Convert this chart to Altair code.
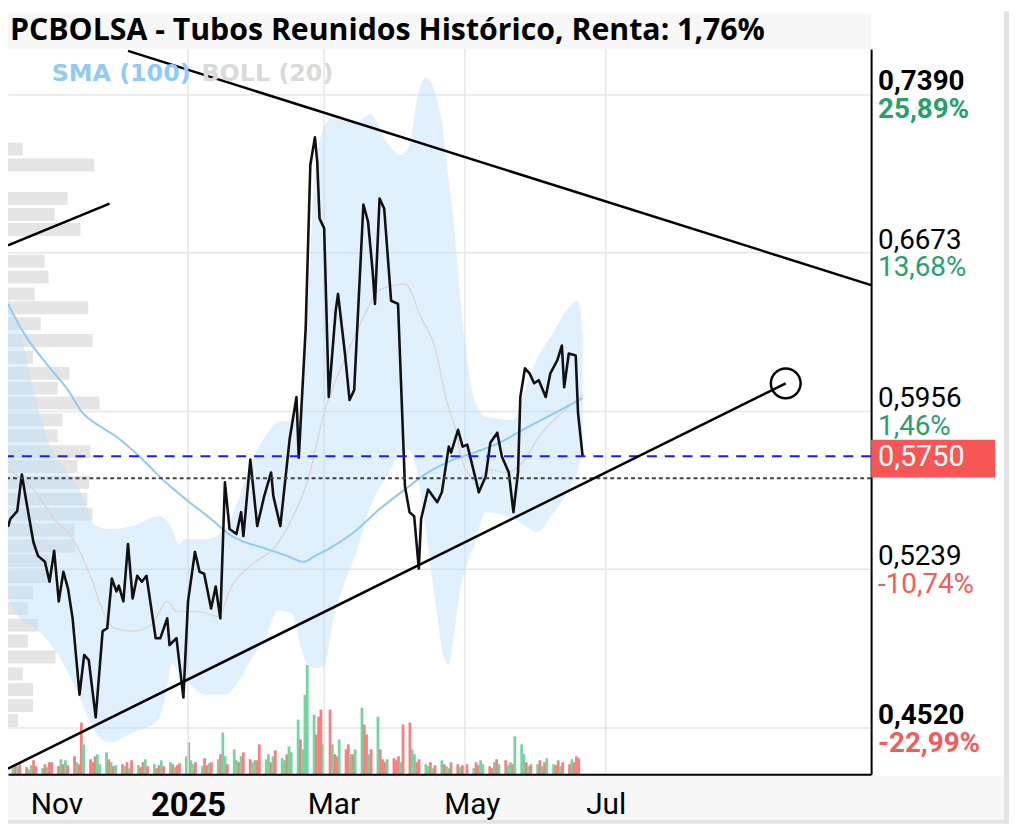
import altair as alt
import pandas as pd

TITLE = "PCBOLSA - Tubos Reunidos Histórico, Renta: 1,76%"

# ---------------- price (close) ----------------
price_dates = [
    "2024-10-15", "2024-10-16", "2024-10-19", "2024-10-21", "2024-10-23", "2024-10-26", "2024-10-28",
    "2024-10-31", "2024-11-02", "2024-11-04", "2024-11-06", "2024-11-08", "2024-11-10", "2024-11-12",
    "2024-11-15", "2024-11-17", "2024-11-19", "2024-11-22", "2024-11-25", "2024-11-27", "2024-11-29",
    "2024-12-01", "2024-12-02", "2024-12-04", "2024-12-06", "2024-12-08", "2024-12-10", "2024-12-12",
    "2024-12-14", "2024-12-18", "2024-12-20", "2024-12-23", "2024-12-24", "2024-12-27", "2024-12-30",
    "2025-01-01", "2025-01-04", "2025-01-06", "2025-01-08", "2025-01-11", "2025-01-13", "2025-01-15",
    "2025-01-17", "2025-01-19", "2025-01-22", "2025-01-24", "2025-01-25", "2025-01-28", "2025-01-31",
    "2025-02-03", "2025-02-06", "2025-02-07", "2025-02-10", "2025-02-14", "2025-02-17", "2025-02-18",
    "2025-02-21", "2025-02-23", "2025-02-25", "2025-02-26", "2025-02-27", "2025-03-01", "2025-03-03",
    "2025-03-06", "2025-03-07", "2025-03-10", "2025-03-12", "2025-03-14", "2025-03-18", "2025-03-20",
    "2025-03-22", "2025-03-23", "2025-03-25", "2025-03-27", "2025-03-30", "2025-04-02", "2025-04-05",
    "2025-04-07", "2025-04-09", "2025-04-11", "2025-04-12", "2025-04-15", "2025-04-19", "2025-04-21",
    "2025-04-24", "2025-04-25", "2025-04-28", "2025-04-30", "2025-05-02", "2025-05-06", "2025-05-07",
    "2025-05-10", "2025-05-12", "2025-05-15", "2025-05-17", "2025-05-20", "2025-05-22", "2025-05-24",
    "2025-05-25", "2025-05-27", "2025-05-29", "2025-05-31", "2025-06-02", "2025-06-05", "2025-06-07",
    "2025-06-10", "2025-06-12", "2025-06-13", "2025-06-15", "2025-06-18", "2025-06-19", "2025-06-21",
]
price_values = [
    0.5430, 0.5466, 0.5502, 0.5668, 0.5542, 0.5362, 0.5299,
    0.5272, 0.5182, 0.5322, 0.5093, 0.5227, 0.5151, 0.5016,
    0.4670, 0.4850, 0.4827, 0.4567, 0.4958, 0.4971, 0.5196,
    0.5138, 0.5164, 0.5093, 0.5353, 0.5106, 0.5209, 0.5182,
    0.5209, 0.4926, 0.4926, 0.5016, 0.4895, 0.4926, 0.4657,
    0.5093, 0.5317, 0.5227, 0.5218, 0.5061, 0.5160, 0.5016,
    0.5632, 0.5421, 0.5398, 0.5497, 0.5389, 0.5735, 0.5434,
    0.5569, 0.5677, 0.5569, 0.5434, 0.5825, 0.6019, 0.5744,
    0.6333, 0.7070, 0.7196, 0.7084, 0.6828, 0.6783, 0.6019,
    0.6410, 0.6486, 0.6216, 0.6005, 0.6050, 0.6891, 0.6814,
    0.6589, 0.6441, 0.6918, 0.6873, 0.6455, 0.6441, 0.5614,
    0.5497, 0.5479, 0.5241, 0.5466, 0.5600, 0.5542, 0.5587,
    0.5794, 0.5767, 0.5870, 0.5794, 0.5803, 0.5632, 0.5587,
    0.5659, 0.5812, 0.5857, 0.5749, 0.5677, 0.5497, 0.5677,
    0.6019, 0.6149, 0.6126, 0.6081, 0.6095, 0.6019, 0.6126,
    0.6185, 0.6252, 0.6063, 0.6216, 0.6207, 0.5947, 0.5750,
]

# ---------------- SMA (100) ----------------
sma_dates = [
    "2024-10-15", "2024-10-22", "2024-11-02", "2024-11-10", "2024-11-16", "2024-11-25", "2024-12-01",
    "2024-12-11", "2024-12-21", "2024-12-31", "2025-01-11", "2025-01-20", "2025-02-04", "2025-02-13",
    "2025-02-20", "2025-02-25", "2025-03-03", "2025-03-14", "2025-03-25", "2025-04-05", "2025-04-15",
    "2025-04-26", "2025-05-05", "2025-05-16", "2025-05-26", "2025-06-09", "2025-06-21",
]
sma_values = [
    0.6441, 0.6306, 0.6153, 0.6050, 0.5951, 0.5879, 0.5839,
    0.5749, 0.5645, 0.5556, 0.5466, 0.5389, 0.5331, 0.5299,
    0.5272, 0.5299, 0.5331, 0.5407, 0.5511, 0.5600, 0.5677,
    0.5735, 0.5767, 0.5812, 0.5870, 0.5947, 0.6014,
]

# ---------------- Bollinger (20) ----------------
boll_dates = [
    "2024-10-15", "2024-10-20", "2024-10-27", "2024-11-02", "2024-11-09", "2024-11-15", "2024-11-22",
    "2024-11-28", "2024-12-08", "2024-12-19", "2024-12-23", "2024-12-25", "2024-12-28", "2024-12-31",
    "2025-01-09", "2025-01-17", "2025-01-23", "2025-01-28", "2025-02-04", "2025-02-09", "2025-02-15",
    "2025-02-19", "2025-02-22", "2025-02-25", "2025-03-01", "2025-03-05", "2025-03-09", "2025-03-15",
    "2025-03-21", "2025-03-28", "2025-04-03", "2025-04-07", "2025-04-10", "2025-04-14", "2025-04-18",
    "2025-04-22", "2025-04-24", "2025-04-26", "2025-04-29", "2025-05-02", "2025-05-05", "2025-05-10",
    "2025-05-22", "2025-05-28", "2025-06-01", "2025-06-08", "2025-06-15", "2025-06-19", "2025-06-21",
]
boll_upper = [
    0.6455, 0.6320, 0.6005, 0.5803, 0.5690, 0.5600, 0.5434,
    0.5421, 0.5434, 0.5479, 0.5457, 0.5421, 0.5353, 0.5376,
    0.5376, 0.5421, 0.5556, 0.5713, 0.5848, 0.5906, 0.5915,
    0.6005, 0.6455, 0.7039, 0.7241, 0.7286, 0.7273, 0.7264,
    0.7300, 0.7174, 0.7115, 0.7160, 0.7354, 0.7466, 0.7398,
    0.7187, 0.6994, 0.6828, 0.6455, 0.6185, 0.6005, 0.5929,
    0.5915, 0.6081, 0.6185, 0.6306, 0.6423, 0.6455, 0.6306,
]
boll_lower = [
    0.5106, 0.5016, 0.4971, 0.4904, 0.4791, 0.4658, 0.4499,
    0.4454, 0.4499, 0.4558, 0.4701, 0.4814, 0.4769, 0.4737,
    0.4670, 0.4670, 0.4733, 0.4823, 0.4940, 0.5052, 0.5039,
    0.4881, 0.4805, 0.4791, 0.4800, 0.5016, 0.5151, 0.5317,
    0.5524, 0.5659, 0.5758, 0.5780, 0.5690, 0.5421, 0.5106,
    0.4836, 0.4805, 0.4926, 0.5151, 0.5263, 0.5344, 0.5497,
    0.5466, 0.5430, 0.5407, 0.5488, 0.5600, 0.5690, 0.5767,
]
boll_mid_dates = [
    "2024-10-15", "2024-10-26", "2024-11-04", "2024-11-13", "2024-11-19", "2024-11-26", "2024-11-30",
    "2024-12-08", "2024-12-16", "2024-12-23", "2024-12-27", "2025-01-05", "2025-01-14", "2025-01-20",
    "2025-01-28", "2025-02-08", "2025-02-15", "2025-02-22", "2025-03-01", "2025-03-11", "2025-03-20",
    "2025-03-24", "2025-04-05", "2025-04-12", "2025-04-18", "2025-04-23", "2025-04-27", "2025-04-30",
    "2025-05-06", "2025-05-12", "2025-05-18", "2025-05-26", "2025-06-02", "2025-06-12", "2025-06-21",
]
boll_mid = [
    0.5690, 0.5600, 0.5466, 0.5362, 0.5227, 0.5030, 0.4971,
    0.4958, 0.4985, 0.5093, 0.5048, 0.5048, 0.5025, 0.5164,
    0.5254, 0.5344, 0.5466, 0.5645, 0.5947, 0.6216, 0.6423,
    0.6499, 0.6531, 0.6378, 0.6243, 0.6005, 0.5870, 0.5722,
    0.5645, 0.5690, 0.5677, 0.5722, 0.5839, 0.5947, 0.6028,
]

# ---------------- daily volume (k shares, + up day / - down day) ----------------
vol_start, vol_end = "2024-10-15", "2025-06-20"
vol_signed = (
    [60, -100, 80, -120, -70, 50, 90, -140, -80, 60, -100, 70, -120]
    + [-120, -80, 150, -100, 140, -90, -180, 120, -100, -520, 300, -150, -120, -180, 200, 100, 220, -150, 120, -80, 90]
    + [-100, 80, -120, 60, -140, 90, -70, -120, 150, -80, 100, -60, -90, 140, -80, 120, -100, 70, -90, -110, 180, -320]
    + [140, 100, -120, 80, -160, -90, 110, -120, 150, -200, 420, 180, -100, 250, 140, -120, 180, -220, -150, 120, 140, -140, -300]
    + [150, 200, -120, 180, -240, 160, 140, -200, 280, 220, 550, -350, 250, 800, 1100, 600, -400, -580, -650, 300]
    + [-650, 300, -200, -180, 350, -250, -300, 200, -200, 250, 670, -500, -400, 200, -250, 580, -250, -150, -120, 150, -160]
    + [-140, -180, 120, -500, -520, 250, 200, -120, -150, 100, 80, -120, 60, -90, 140, -100, 80, 60, -120, -100, 70, -90]
    + [80, -100, 60, -120, -90, 140, 100, -80, -60, 120, -150, 100, -140, 90, 120, -100, 380, 300, 200, -120, 80, -100]
    + [100, -140, 80, -120, 160, 100, -90, -140, 80, -120, -100, 150, -120, -180, -160]
)

# ---------------- volume profile (price level, k shares) ----------------
profile_prices = [
    0.7142, 0.7070, 0.6918, 0.6846, 0.6778, 0.6634, 0.6562, 0.6486, 0.6423, 0.6351,
    0.6275, 0.6198, 0.6126, 0.6059, 0.5992, 0.5915, 0.5843, 0.5771, 0.5704, 0.5632,
    0.5556, 0.5488, 0.5416, 0.5344, 0.5277, 0.5205, 0.5133, 0.5061, 0.4985, 0.4913,
    0.4841, 0.4764, 0.4693, 0.4621, 0.4553,
]
profile_volumes = [
    170, 1000, 690, 540, 840, 425, 470, 310, 930, 380,
    980, 290, 710, 575, 1060, 630, 575, 955, 805, 940,
    920, 980, 770, 780, 480, 480, 290, 230, 345, 230,
    550, 170, 290, 290, 115,
]

# ---------------- trend lines / levels ----------------
trend_seg = ["upper", "upper", "short", "short", "lower", "lower"]
trend_dates = ["2024-12-06", "2025-10-24", "2024-10-15", "2024-11-28", "2024-10-15", "2025-09-17"]
trend_values = [0.7587, 0.6526, 0.6706, 0.6895, 0.4335, 0.6081]
last_price = 0.5750
prev_close = 0.5651

axis_prices = [0.7390, 0.6673, 0.5956, 0.5239, 0.4520]
axis_pcts = ["25,89%", "13,68%", "1,46%", "-10,74%", "-22,99%"]
axis_bold = [True, False, False, False, True]
axis_pct_up = [True, True, True, False, False]

grid_dates = ["2025-01-01", "2025-03-01", "2025-05-01", "2025-07-01"]
label_dates = ["2024-11-05", "2025-01-01", "2025-03-05", "2025-05-04", "2025-07-01"]

# ---------------- layout ----------------
W, H = 870, 731
GREEN, RED = "#27a06e", "#f45b5b"
FONT = "Roboto"
TFONT = "Open Sans"
LFONT = "DejaVu Sans"
FRAME = "#e3e3e3"


def ms(d):
    return int(pd.Timestamp(d, tz="UTC").value // 10**6)


xscale = alt.Scale(type="utc", domain=[ms("2024-10-15"), ms("2025-10-24")])
yscale = alt.Scale(domain=[0.4310, 0.7596], nice=False, zero=False)

xaxis = alt.Axis(
    values=[ms(d) for d in label_dates],
    grid=False, ticks=False, domain=True, domainColor="#000000", domainWidth=2,
    labelExpr="utcmonth(datum.value) == 0 ? utcFormat(datum.value, '%Y') : utcFormat(datum.value, '%b')",
    labelFont=FONT, labelColor="#000000", labelPadding=16,
    labelFontSize={"condition": {"test": "utcmonth(datum.value) == 0", "value": 33}, "value": 30},
    labelFontWeight={"condition": {"test": "utcmonth(datum.value) == 0", "value": "bold"}, "value": "normal"},
    labelOverlap=False, title=None, zindex=1,
)
yaxis = alt.Axis(
    orient="right", values=axis_prices, labels=False, ticks=False, domain=True,
    domainColor="#000000", domainWidth=2, grid=True, gridColor="#e6e6e6", gridWidth=1.5, title=None,
)


def X(field):
    return alt.X(field, type="temporal", scale=xscale, axis=xaxis)


def Y(field):
    return alt.Y(field, type="quantitative", scale=yscale, axis=yaxis)


one = pd.DataFrame({"a": [0]})

# decorative strips: title strip, x-axis strip and the light outer frame
title_band = alt.Chart(one).mark_rect(color="#f7f7f7").encode(
    x=alt.value(-3), x2=alt.value(W), y=alt.value(-36), y2=alt.value(0))
bottom_band = alt.Chart(one).mark_rect(color="#f7f7f7").encode(
    x=alt.value(-3), x2=alt.value(W + 134), y=alt.value(H + 2), y2=alt.value(H + 46))
frame_right = alt.Chart(one).mark_rect(color=FRAME).encode(
    x=alt.value(W + 134), x2=alt.value(W + 139), y=alt.value(-38), y2=alt.value(H + 50))
frame_bottom = alt.Chart(one).mark_rect(color=FRAME).encode(
    x=alt.value(-3), x2=alt.value(W + 139), y=alt.value(H + 46), y2=alt.value(H + 50))
title_text = alt.Chart(one).mark_text(
    align="left", baseline="alphabetic", fontSize=30.5, font=TFONT, fontWeight="bold", color="#000000"
).encode(x=alt.value(2), y=alt.value(-9), text=alt.value(TITLE))

vgrid = alt.Chart(pd.DataFrame({"date": grid_dates})).mark_rule(
    color="#e6e6e6", strokeWidth=1.5).encode(x=X("date"))

boll_df = pd.DataFrame({"date": boll_dates, "up": boll_upper, "lo": boll_lower})
band = alt.Chart(boll_df).mark_area(color="#bbdefb", opacity=0.45, interpolate="monotone").encode(
    x=X("date"), y=Y("lo"), y2="up")
mid = alt.Chart(pd.DataFrame({"date": boll_mid_dates, "p": boll_mid})).mark_line(
    color="#ddd2cd", strokeWidth=1.2, interpolate="monotone").encode(x=X("date"), y=Y("p"))
sma = alt.Chart(pd.DataFrame({"date": sma_dates, "p": sma_values})).mark_line(
    color="#90caf9", strokeWidth=2, interpolate="monotone").encode(x=X("date"), y=Y("p"))
price = alt.Chart(pd.DataFrame({"date": price_dates, "p": price_values})).mark_line(
    color="#111111", strokeWidth=2.6, strokeJoin="round").encode(x=X("date"), y=Y("p"))

prev_rule = alt.Chart(pd.DataFrame({"p": [prev_close]})).mark_rule(
    color="#444444", strokeWidth=2, strokeDash=[4, 3]).encode(y=Y("p"))
last_rule = alt.Chart(pd.DataFrame({"p": [last_price]})).mark_rule(
    color="#1a1aff", strokeWidth=2, strokeDash=[10, 8]).encode(y=Y("p"))

trend_df = pd.DataFrame({"seg": trend_seg, "date": trend_dates, "p": trend_values})
trends = alt.Chart(trend_df).mark_line(color="#000000", strokeWidth=2.5).encode(
    x=X("date"), y=Y("p"), detail="seg:N")
circle_df = trend_df[trend_df.seg == "lower"].tail(1)
circle = alt.Chart(circle_df).mark_point(
    shape="circle", size=900, filled=False, color="#000000", strokeWidth=2.5, opacity=1).encode(
    x=X("date"), y=Y("p"))

lab_df = pd.DataFrame({
    "p": axis_prices,
    "lab": [f"{v:.4f}".replace(".", ",") for v in axis_prices],
    "pct": axis_pcts,
    "bold": axis_bold,
    "col": [GREEN if u else RED for u in axis_pct_up],
})
price_lab_b = alt.Chart(lab_df[lab_df.bold]).mark_text(
    align="left", baseline="alphabetic", dy=-4, fontSize=28, font=FONT, fontWeight="bold", color="#000000"
).encode(x=alt.value(W + 7), y=Y("p"), text="lab:N")
price_lab_n = alt.Chart(lab_df[~lab_df.bold]).mark_text(
    align="left", baseline="alphabetic", dy=-4, fontSize=28, font=FONT, color="#000000"
).encode(x=alt.value(W + 7), y=Y("p"), text="lab:N")
pct_lab_b = alt.Chart(lab_df[lab_df.bold]).mark_text(
    align="left", baseline="alphabetic", dy=24, fontSize=28, font=FONT, fontWeight="bold"
).encode(x=alt.value(W + 7), y=Y("p"), text="pct:N", color=alt.Color("col:N", scale=None))
pct_lab_n = alt.Chart(lab_df[~lab_df.bold]).mark_text(
    align="left", baseline="alphabetic", dy=24, fontSize=28, font=FONT
).encode(x=alt.value(W + 7), y=Y("p"), text="pct:N", color=alt.Color("col:N", scale=None))

box_df = pd.DataFrame({"top": [last_price + 0.0075], "bot": [last_price - 0.0096],
                       "p": [last_price], "lab": [f"{last_price:.4f}".replace(".", ",")]})
last_box = alt.Chart(box_df).mark_rect(color="#f85656").encode(
    x=alt.value(W), x2=alt.value(W + 125), y=Y("top"), y2="bot")
last_lab = alt.Chart(box_df).mark_text(
    align="left", baseline="middle", dy=1, fontSize=29, font=FONT, color="#ffffff"
).encode(x=alt.value(W + 7), y=Y("p"), text="lab:N")

leg_sma = alt.Chart(one).mark_text(
    align="left", baseline="middle", fontSize=24, font=LFONT, fontWeight="bold", color="#90caf9"
).encode(x=alt.value(44), y=alt.value(25), text=alt.value("SMA (100)"))
leg_boll = alt.Chart(one).mark_text(
    align="left", baseline="middle", fontSize=24, font=LFONT, fontWeight="bold", color="#dadada"
).encode(x=alt.value(195), y=alt.value(25), text=alt.value("BOLL (20)"))

main = alt.layer(
    title_band, bottom_band, frame_right, frame_bottom, title_text, vgrid, band, mid, sma, price,
    prev_rule, last_rule, trends, circle,
    price_lab_b, price_lab_n, pct_lab_b, pct_lab_n, last_box, last_lab, leg_sma, leg_boll,
)

# volume bars
vdates = pd.bdate_range(vol_start, vol_end)
n = min(len(vdates), len(vol_signed))
vol_df = pd.DataFrame({
    "date": [d.strftime("%Y-%m-%d") for d in vdates[:n]],
    "v": [abs(v) for v in vol_signed[:n]],
    "c": ["#74d5a0" if v > 0 else "#f78080" for v in vol_signed[:n]],
})
volume = alt.Chart(vol_df).mark_bar(width=2.8).encode(
    x=alt.X("date:T", scale=xscale, axis=None),
    y=alt.Y("v:Q", scale=alt.Scale(domain=[0, 7310], nice=False), axis=None),
    color=alt.Color("c:N", scale=None),
)

# volume profile
prof_df = pd.DataFrame({"p": profile_prices, "v": profile_volumes})
profile = alt.Chart(prof_df).mark_rule(color="#dedede", strokeWidth=13, opacity=0.8, strokeCap="butt").encode(
    x=alt.X("v:Q", scale=alt.Scale(domain=[0, 10000], nice=False), axis=None),
    x2=alt.value(0),
    y=alt.Y("p:Q", scale=yscale, axis=None),
)

chart = alt.layer(profile, volume, main).resolve_scale(
    x="independent", y="independent"
).properties(
    width=W, height=H,
    autosize=alt.AutoSizeParams(type="none"),
    padding={"left": 0, "top": 38, "right": 142, "bottom": 48},
    background="#ffffff",
).configure_view(stroke=None)

chart.save("out.html", embed_options={"renderer": "svg", "actions": False})
